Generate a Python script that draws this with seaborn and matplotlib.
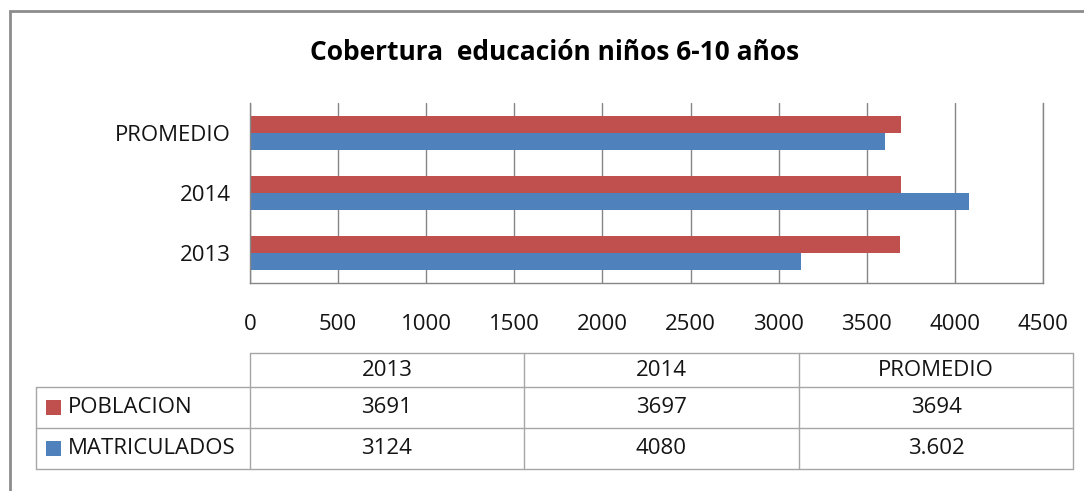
import numpy as np
import pandas as pd
import matplotlib
matplotlib.use('Agg')
import matplotlib.pyplot as plt
import seaborn as sns
from matplotlib.patches import Rectangle
from matplotlib.lines import Line2D

# data
categories = ['2013', '2014', 'PROMEDIO']
series = ['POBLACION', 'MATRICULADOS']
poblacion = [3691, 3697, 3694]
matriculados = [3124, 4080, 3602]
# table cells as printed in the reference
poblacion_txt = ['3691', '3697', '3694']
matriculados_txt = ['3124', '4080', '3.602']
x_ticks = [0, 500, 1000, 1500, 2000, 2500, 3000, 3500, 4000, 4500]

RED = '#C0504D'
BLUE = '#4F81BD'
GRID = '#868686'
TXT = '#141414'

sns.set_theme(style='white')
plt.rcParams['font.family'] = ['Open Sans', 'DejaVu Sans']

df = pd.DataFrame({
    'categoria': categories * 2,
    'serie': [series[0]] * 3 + [series[1]] * 3,
    'valor': poblacion + matriculados,
})

W, H = 1084, 491
fig = plt.figure(figsize=(W / 100, H / 100), dpi=100)


def fx(px):
    return px / W


def fy(py):
    return 1 - py / H


ax = fig.add_axes([fx(250), fy(283), fx(1043) - fx(250), fy(103) - fy(283)])
sns.barplot(data=df, x='valor', y='categoria', hue='serie', orient='h',
            order=categories[::-1], hue_order=series,
            palette=[RED, BLUE], width=0.58, gap=0, saturation=1,
            edgecolor='none', legend=False, ax=ax)

ax.set_xlim(0, 4500)
ax.set_ylim(2.5, -0.5)
ax.set_xticks(x_ticks)
ax.set_xticklabels([str(t) for t in x_ticks], fontsize=16, color=TXT)
ax.tick_params(axis='x', length=0, pad=22)
ax.tick_params(axis='y', length=0, pad=14, labelsize=16, labelcolor=TXT)
ax.set_xlabel('')
ax.set_ylabel('')
ax.grid(axis='x', color=GRID, linewidth=1)
ax.set_axisbelow(True)
ax.spines['top'].set_visible(False)
for side in ['left', 'bottom', 'right']:
    ax.spines[side].set_color(GRID)
    ax.spines[side].set_linewidth(1)

fig.text(fx(555), fy(53), 'Cobertura  educación niños 6-10 años',
         ha='center', va='center', fontsize=19, fontweight='bold', color='black')

# outer chart frame
fig.add_artist(Rectangle((fx(10), fy(500)), fx(1200), fy(11) - fy(500),
                         transform=fig.transFigure, fill=False,
                         edgecolor='#8c8c8c', linewidth=2))

# data table below the chart
tcol = '#a6a6a6'
col_x = [250, 524, 799, 1073]
row_y = [353, 387, 428, 469]
tab_left = 36


def hline(y, x0, x1):
    fig.add_artist(Line2D([fx(x0), fx(x1)], [fy(y), fy(y)], color=tcol, lw=1))


def vline(x, y0, y1):
    fig.add_artist(Line2D([fx(x), fx(x)], [fy(y0), fy(y1)], color=tcol, lw=1))


hline(row_y[0], col_x[0], col_x[-1])
for y in row_y[1:]:
    hline(y, tab_left, col_x[-1])
for x in col_x:
    vline(x, row_y[0], row_y[-1])
vline(tab_left, row_y[1], row_y[-1])

for i, cat in enumerate(categories):
    cx = (col_x[i] + col_x[i + 1]) / 2
    fig.text(fx(cx), fy((row_y[0] + row_y[1]) / 2), cat, ha='center', va='center',
             fontsize=16, color=TXT)
    fig.text(fx(cx), fy((row_y[1] + row_y[2]) / 2), poblacion_txt[i], ha='center',
             va='center', fontsize=16, color=TXT)
    fig.text(fx(cx), fy((row_y[2] + row_y[3]) / 2), matriculados_txt[i], ha='center',
             va='center', fontsize=16, color=TXT)

for j, (name, colr) in enumerate(zip(series, [RED, BLUE])):
    cy = (row_y[j + 1] + row_y[j + 2]) / 2
    fig.add_artist(Rectangle((fx(46), fy(cy + 7.5)), fx(15), fy(cy - 7.5) - fy(cy + 7.5),
                             transform=fig.transFigure, facecolor=colr, edgecolor='none'))
    fig.text(fx(68), fy(cy), name, ha='left', va='center', fontsize=16, color=TXT)

fig.savefig('out.png', dpi=100)
